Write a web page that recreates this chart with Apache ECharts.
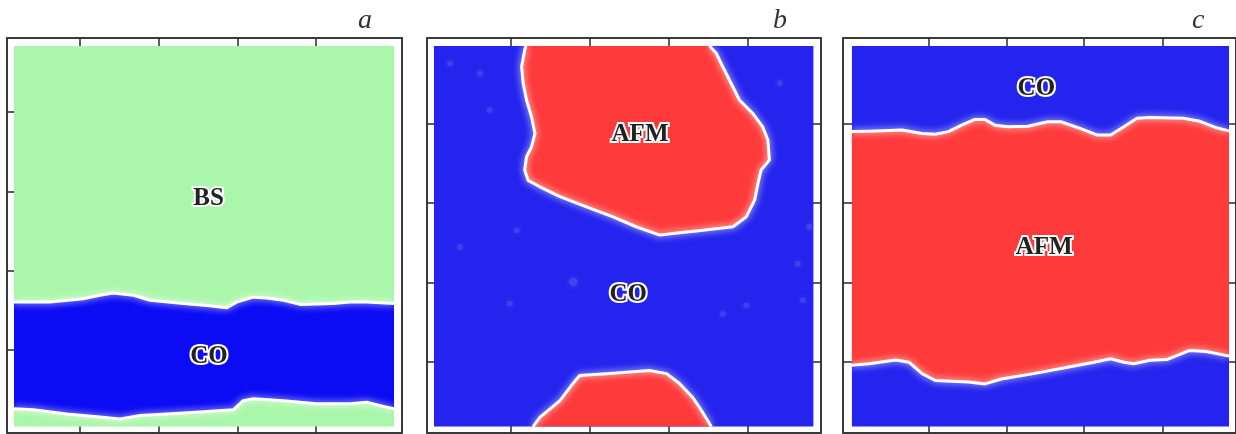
<!DOCTYPE html>
<html>
<head>
<meta charset="utf-8">
<script src="https://cdn.jsdelivr.net/npm/echarts@6/dist/echarts.min.js"></script>
<style>
  html, body { margin: 0; padding: 0; background: #fff; }
  #main { width: 1236px; height: 434px; }
</style>
</head>
<body>
<div id="main"></div>
<script>
// lattice coordinates: 0..100 across the coloured square, y counted from the top
var ticksAx = [17.4, 38.2, 59.0, 79.5];
var ticksAy = [17.4, 38.2, 59.0, 79.7];
var ticksBx = [20.3, 41.1, 61.8, 82.6];
var ticksBy = [20.5, 41.3, 62.1, 82.9];
var ticksCx = [20.3, 41.1, 61.6, 82.4];

// panel a: CO stripe in the BS phase
var aStripeTop = [[0, 67.3], [9.5, 67.3], [18.2, 66.4], [22.6, 65.5], [26.1, 64.9], [31.4, 65.5], [35.8, 66.8], [44.6, 67.7], [50.7, 68.2], [56.0, 68.8], [58.6, 67.3], [63.0, 66.0], [66.5, 66.2], [70.9, 66.8], [75.3, 67.9], [84.0, 67.7], [88.4, 67.3], [92.8, 67.3], [100, 67.7]];
var aStripeBottom = [[0, 95.3], [5.1, 95.6], [13.9, 96.7], [22.6, 97.5], [27.9, 98.0], [33.2, 97.1], [40.2, 96.7], [48.9, 96.2], [57.7, 95.6], [60.3, 93.2], [63.0, 92.7], [70.9, 93.2], [79.6, 94.0], [88.4, 94.0], [92.8, 93.6], [97.2, 94.7], [100, 95.3]];

// panel b: two AFM islands in CO
var bIslandTop = [[24.2, 0], [72.6, 0], [74.4, 1.9], [76.1, 5.4], [78.3, 9.8], [80.5, 14.2], [84.0, 17.7], [86.6, 21.2], [88.0, 24.7], [88.4, 30.0], [86.2, 32.6], [85.4, 36.1], [84.5, 40.5], [82.3, 44.9], [78.8, 47.5], [70.9, 48.4], [63.0, 49.3], [59.5, 49.7], [53.3, 47.5], [47.2, 44.9], [40.2, 42.3], [33.2, 39.6], [27.9, 37.0], [24.8, 35.3], [23.9, 32.6], [24.4, 29.1], [25.7, 26.5], [26.6, 23.0], [25.7, 18.6], [24.4, 14.2], [23.5, 9.8], [23.1, 5.4], [23.9, 1.1]];
var bIslandBottom = [[26.1, 100], [27.9, 97.6], [33.2, 93.2], [36.6, 88.7], [38.4, 86.6], [45.5, 86.1], [56.8, 85.3], [61.3, 86.1], [64.7, 88.7], [68.2, 92.4], [70.0, 95.0], [73.1, 100]];
var bSpots = [[36.7, 62.0], [4.2, 4.6], [12.1, 7.2], [14.7, 16.8], [91.1, 9.8], [95.9, 57.2], [98.9, 47.5], [20.0, 67.7], [82.3, 68.2], [97.2, 66.8], [76.1, 70.4], [6.8, 52.8], [21.8, 48.4]];

// panel c: AFM band in CO
var cBandTop = [[0, 22.5], [4.6, 22.4], [13.3, 22.1], [18.6, 23.0], [22.1, 23.2], [25.6, 22.5], [29.1, 20.8], [32.6, 19.3], [35.3, 19.3], [37.9, 20.8], [41.4, 21.2], [46.7, 21.1], [51.9, 19.9], [55.4, 19.9], [60.7, 21.7], [65.1, 23.4], [68.6, 23.4], [72.1, 21.2], [75.6, 19.0], [79.1, 18.8], [87.9, 19.0], [92.3, 19.8], [96.7, 21.5], [100, 22.3]];
var cBandBottom = [[0, 83.9], [4.6, 83.5], [11.6, 82.5], [15.1, 83.1], [18.6, 86.1], [22.1, 87.9], [30.9, 88.3], [35.3, 88.8], [39.6, 87.5], [48.2, 86.1], [57.2, 84.4], [64.2, 83.1], [68.6, 82.2], [72.1, 83.1], [74.7, 83.5], [79.1, 82.6], [83.5, 82.4], [89.6, 80.0], [94.0, 80.3], [100, 81.5]];

var phaseNames = [['BS', 'CO'], ['AFM', 'CO'], ['CO', 'AFM']];
var phaseNamePos = [
  [[51.2, 40.1], [51.3, 81.6]],
  [[54.3, 23.4], [51.2, 65.2]],
  [[48.9, 11.1], [51.0, 53.0]]
];
var panelLetters = ['a', 'b', 'c'];

var GREEN = '#aaf6aa', BLUE_A = '#0c0cf4', BLUE = '#2424ee', RED = '#ff3a3a';
var edgeStyle = { stroke: '#fff', lineWidth: 3, fill: null, shadowBlur: 7, shadowColor: 'rgba(255,255,255,0.95)', lineJoin: 'round' };
var LABEL_FONT = 'bold 25px "Liberation Serif", "DejaVu Serif", serif';

function square(api, fill) {
  var p0 = api.coord([0, 0]), p1 = api.coord([100, 100]);
  return { type: 'rect', shape: { x: p0[0], y: p0[1], width: p1[0] - p0[0], height: p1[1] - p0[1] }, style: { fill: fill } };
}
function pts(api, list) { return list.map(function (p) { return api.coord(p); }); }

var grids = [
  { left: 7, top: 38, width: 395, height: 395 },
  { left: 427, top: 38, width: 394, height: 395 },
  { left: 843, top: 38, width: 396, height: 395 }
];
var xRange = [[-1.84, 102.1], [-1.84, 102.0], [-2.37, 101.85]];
var xTicks = [ticksAx, ticksBx, ticksCx];
var yTicks = [ticksAy, ticksBy, ticksBy];

function axisCommon(ticks) {
  return {
    type: 'value',
    axisLine: { show: true, onZero: false, lineStyle: { color: '#3a3a3a', width: 2 } },
    axisTick: { show: !!ticks, inside: true, length: 9, customValues: ticks || [], lineStyle: { color: '#2a2a2a', width: 1.5 } },
    axisLabel: { show: false },
    splitLine: { show: false }
  };
}

var xAxis = [], yAxis = [];
for (var i = 0; i < 3; i++) {
  ['bottom', 'top'].forEach(function (pos) {
    xAxis.push(Object.assign(axisCommon(xTicks[i]), { gridIndex: i, position: pos, min: xRange[i][0], max: xRange[i][1] }));
  });
  ['left', 'right'].forEach(function (pos) {
    var t = (i === 0 && pos === 'right') ? null : yTicks[i];
    yAxis.push(Object.assign(axisCommon(t), { gridIndex: i, position: pos, inverse: true, min: -2.1, max: 101.7 }));
  });
}

var series = [
  {
    type: 'custom', xAxisIndex: 0, yAxisIndex: 0, silent: true, data: [[0, 0]],
    renderItem: function (params, api) {
      return { type: 'group', children: [
        square(api, GREEN),
        { type: 'polygon', shape: { points: pts(api, aStripeTop.concat(aStripeBottom.slice().reverse())) }, style: { fill: BLUE_A } },
        { type: 'polyline', shape: { points: pts(api, aStripeTop) }, style: edgeStyle },
        { type: 'polyline', shape: { points: pts(api, aStripeBottom) }, style: edgeStyle }
      ] };
    }
  },
  {
    type: 'custom', xAxisIndex: 2, yAxisIndex: 2, silent: true, data: [[0, 0]],
    renderItem: function (params, api) {
      var outline = bIslandTop.slice(1).concat([bIslandTop[0]]);
      return { type: 'group', children: [
        square(api, BLUE),
        { type: 'polygon', shape: { points: pts(api, bIslandTop) }, style: { fill: RED } },
        { type: 'polygon', shape: { points: pts(api, bIslandBottom) }, style: { fill: RED } },
        { type: 'polyline', shape: { points: pts(api, outline) }, style: edgeStyle },
        { type: 'polyline', shape: { points: pts(api, bIslandBottom) }, style: edgeStyle }
      ] };
    }
  },
  {
    type: 'scatter', xAxisIndex: 2, yAxisIndex: 2, silent: true, data: bSpots,
    symbolSize: function (v, p) { return p.dataIndex === 0 ? 9 : 6; },
    itemStyle: { color: 'rgba(120,120,255,0.35)', shadowBlur: 6, shadowColor: 'rgba(150,150,255,0.7)' }
  },
  {
    type: 'custom', xAxisIndex: 4, yAxisIndex: 4, silent: true, data: [[0, 0]],
    renderItem: function (params, api) {
      return { type: 'group', children: [
        square(api, BLUE),
        { type: 'polygon', shape: { points: pts(api, cBandTop.concat(cBandBottom.slice().reverse())) }, style: { fill: RED } },
        { type: 'polyline', shape: { points: pts(api, cBandTop) }, style: edgeStyle },
        { type: 'polyline', shape: { points: pts(api, cBandBottom) }, style: edgeStyle }
      ] };
    }
  }
];

// phase names: white halo with a thin dark rim, then the dark letters on top
phaseNames.forEach(function (names, k) {
  series.push({
    type: 'custom', xAxisIndex: 2 * k, yAxisIndex: 2 * k, silent: true, z: 10,
    data: phaseNamePos[k],
    renderItem: function (params, api) {
      var p = api.coord([api.value(0), api.value(1)]);
      var txt = names[params.dataIndex];
      var base = { text: txt, x: p[0], y: p[1], font: LABEL_FONT, align: 'center', verticalAlign: 'middle', textAlign: 'center', textVerticalAlign: 'middle' };
      return { type: 'group', children: [
        { type: 'text', style: Object.assign({ fill: '#fff', stroke: '#fff', lineWidth: 4, shadowBlur: 1.5, shadowColor: 'rgba(0,0,0,0.85)' }, base) },
        { type: 'text', style: Object.assign({ fill: '#222' }, base) }
      ] };
    }
  });
});

var chart = echarts.init(document.getElementById('main'));
chart.setOption({
  animation: false,
  backgroundColor: '#fff',
  title: panelLetters.map(function (t, k) {
    return {
      text: t, left: [358, 773, 1192][k], top: 7, padding: 0,
      textStyle: { fontFamily: 'Liberation Serif', fontStyle: 'italic', fontWeight: 'normal', fontSize: 28, color: '#333' }
    };
  }),
  grid: grids,
  xAxis: xAxis,
  yAxis: yAxis,
  series: series
});
</script>
</body>
</html>
